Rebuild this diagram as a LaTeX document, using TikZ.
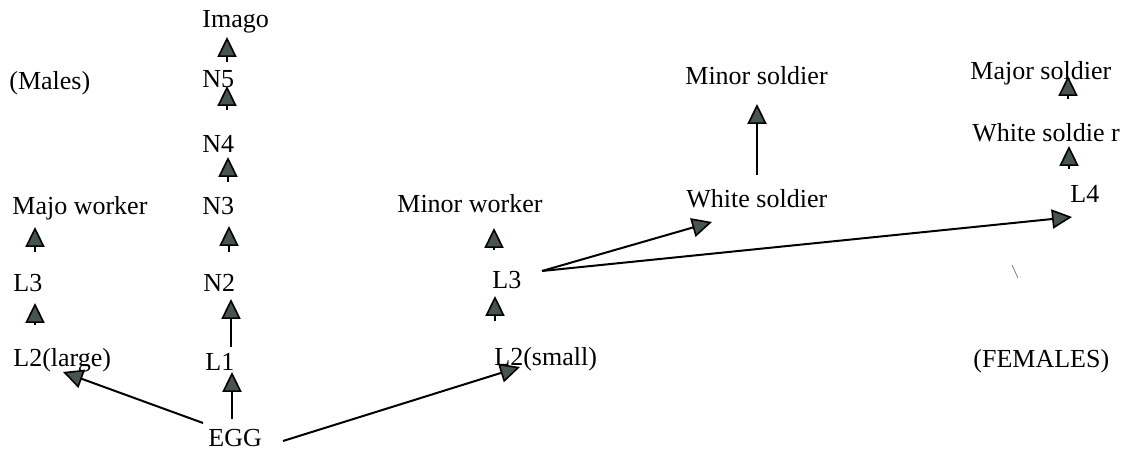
\documentclass[tikz,border=0pt]{standalone}
\usepackage{fontspec}
\setmainfont{Liberation Serif}
\usetikzlibrary{arrows.meta}
\definecolor{tipfill}{RGB}{72,84,78}
\begin{document}
\begin{tikzpicture}[x=0.5pt,y=-0.5pt,
  lbl/.style={anchor=base west,inner sep=0pt,font=\fontsize{13}{15}\selectfont},
  arr/.style={line width=1pt,-{Triangle[length=10pt,width=9.6pt,fill=tipfill,line width=0.8pt]}},
  stub/.style={line width=1pt,-{Triangle[length=10pt,width=9.6pt,fill=tipfill,line width=0.8pt]}}]
\useasboundingbox (0,0) rectangle (1130,453);
% labels
\node[lbl] (imago) at (202,28) {Imago};
\node[lbl] (males) at (9,90) {(Males)};
\node[lbl] (n5) at (202,88) {N5};
\node[lbl] (n4) at (202,153) {N4};
\node[lbl] (majow) at (12,215) {Majo worker};
\node[lbl] (n3) at (202,215) {N3};
\node[lbl] (l3a) at (13,292) {L3};
\node[lbl] (n2) at (203,292) {N2};
\node[lbl] (l2l) at (13,367) {L2(large)};
\node[lbl] (l1) at (205,371) {L1};
\node[lbl] (egg) at (208,447) {EGG};
\node[lbl] (minw) at (397,213) {Minor worker};
\node[lbl] (l3b) at (492,289) {L3};
\node[lbl] (l2s) at (494,366) {L2(small)};
\node[lbl] (minsol) at (685,85) {Minor soldier};
\node[lbl] (whsol) at (686,208) {White soldier};
\node[lbl] (majsol) at (970,80) {Major soldier};
\node[lbl] (whsol2) at (972,142) {White soldie r};
\node[lbl] (l4) at (1070,203) {L4};
\node[lbl] (fem) at (973,368) {(FEMALES)};
% arrow end points
\coordinate (a1s) at (227,62);  \coordinate (a1t) at (227,37);
\coordinate (a2s) at (227,110); \coordinate (a2t) at (227,86);
\coordinate (a3s) at (228,182); \coordinate (a3t) at (228,157);
\coordinate (a4s) at (229,252); \coordinate (a4t) at (229,226);
\coordinate (a5s) at (231,347); \coordinate (a5t) at (231,299);
\coordinate (a6s) at (232,419); \coordinate (a6t) at (232,372);
\coordinate (b1s) at (35,252);  \coordinate (b1t) at (35,227);
\coordinate (b2s) at (35,325);  \coordinate (b2t) at (35,303);
\coordinate (c1s) at (494,250); \coordinate (c1t) at (494,228);
\coordinate (c2s) at (495,321); \coordinate (c2t) at (495,296);
\coordinate (d1s) at (757,175); \coordinate (d1t) at (757,104);
\coordinate (e1s) at (1068,99); \coordinate (e1t) at (1068,76);
\coordinate (e2s) at (1069,169);\coordinate (e2t) at (1069,146);
\coordinate (egg1) at (203,423); \coordinate (l2lt) at (63,372);
\coordinate (egg2) at (283,441); \coordinate (l2st) at (520,367);
\coordinate (l3o) at (542,271);
\coordinate (wst) at (712,222); \coordinate (l4t) at (1072,217);
% connectors
\draw[stub] (a1s) -- (a1t);
\draw[stub] (a2s) -- (a2t);
\draw[stub] (a3s) -- (a3t);
\draw[stub] (a4s) -- (a4t);
\draw[arr] (a5s) -- (a5t);
\draw[arr] (a6s) -- (a6t);
\draw[stub] (b1s) -- (b1t);
\draw[stub] (b2s) -- (b2t);
\draw[stub] (c1s) -- (c1t);
\draw[stub] (c2s) -- (c2t);
\draw[arr] (d1s) -- (d1t);
\draw[stub] (e1s) -- (e1t);
\draw[stub] (e2s) -- (e2t);
\draw[arr] (egg1) -- (l2lt);
\draw[arr] (egg2) -- (l2st);
\draw[arr] (l3o) -- (wst);
\draw[arr] (l3o) -- (l4t);
% stray mark
\coordinate (m1) at (1012,265); \coordinate (m2) at (1018,278);
\draw[gray,line width=0.4pt] (m1) -- (m2);
\end{tikzpicture}
\end{document}
